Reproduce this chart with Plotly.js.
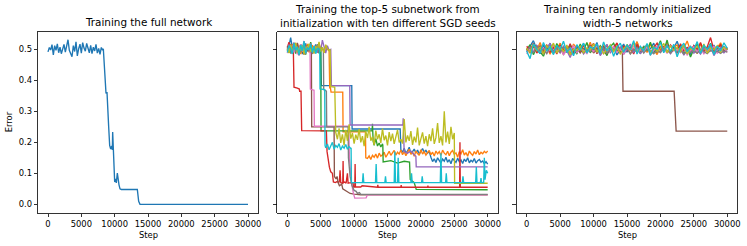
<!DOCTYPE html>
<html><head><meta charset="utf-8">
<script src="https://cdn.plot.ly/plotly-3.0.1.min.js"></script>
<style>html,body{margin:0;padding:0;background:#fff}#chart{width:747px;height:246px}</style>
</head><body><div id="chart"></div>
<script>
// ---------- tick labels ----------
const X_TICKS = [0, 5000, 10000, 15000, 20000, 25000, 30000];
const X_TICK_TEXT = ['0', '5000', '10000', '15000', '20000', '25000', '30000'];
const Y_TICKS = [0, 0.1, 0.2, 0.3, 0.4, 0.5];
const Y_TICK_TEXT = ['0.0', '0.1', '0.2', '0.3', '0.4', '0.5'];
const Y_TICKS_SHARED = [0, 0.5];
const PANEL_TITLES = ['Training the full network',
  'Training the top-5 subnetwork from<br>initialization with ten different SGD seeds',
  'Training ten randomly initialized<br>width-5 networks'];
const X_LABEL = 'Step';
const Y_LABEL = 'Error';

// ---------- step grids (recorded sampling steps) ----------
const STEP_GRID = [0,250,500,750,1000,1250,1500,1750,2000,2250,2500,2750,3000,3250,3500,3750,4000,4250,4500,4750,
5000,5250,5500,5750,6000,6250,6500,6750,7000,7250,7500,7750,8000,8250,8500,8750,9000,9250,9500,9750,
10000,10250,10500,10750,11000,11250,11500,11750,12000,12250,12500,12750,13000,13250,13500,13750,14000,14250,14500,14750,
15000,15250,15500,15750,16000,16250,16500,16750,17000,17250,17500,17750,18000,18250,18500,18750,19000,19250,19500,19750,
20000,20250,20500,20750,21000,21250,21500,21750,22000,22250,22500,22750,23000,23250,23500,23750,24000,24250,24500,24750,
25000,25250,25500,25750,26000,26250,26500,26750,27000,27250,27500,27750,28000,28250,28500,28750,29000,29250,29500,29750,30000];
const STEP_GRID_500 = [0,500,1000,1500,2000,2500,3000,3500,4000,4500,5000,5500,6000,6500,7000,7500,8000,8500,9000,9500,
10000,10500,11000,11500,12000,12500,13000,13500,14000,14500,15000,15500,16000,16500,17000,17500,18000,18500,19000,19500,
20000,20500,21000,21500,22000,22500,23000,23500,24000,24500,25000,25500,26000,26500,27000,27500,28000,28500,29000,29500,30000];
function between(a, b, grid) { return (grid || STEP_GRID).filter(s => s >= a && s <= b); }

// ---------- panel 1: full network ----------
const FULL_STEP = [0,200,400,600,800,1000,1200,1400,1600,1800,2000,2200,2400,2600,2800,3000,3200,3400,3600,3800,
4000,4200,4400,4600,4800,5000,5200,5400,5600,5800,6000,6200,6400,6600,6800,7000,7200,7400,7600,7800,8000,8200,
8300,8450,8600,8700,8850,8950,9100,9250,9400,9550,9650,9700,9800,9900,10000,10150,10250,10400,10500,10650,10800,11000,13400,13500,13600,13800,30000];
const FULL_ERR = [0.492,0.506,0.498,0.515,0.482,0.512,0.497,0.518,0.489,0.507,0.486,0.503,0.516,0.491,0.508,0.531,0.497,0.484,0.476,0.512,
0.493,0.524,0.479,0.502,0.517,0.488,0.522,0.504,0.494,0.519,0.501,0.489,0.513,0.486,0.507,0.495,0.516,0.488,0.503,0.484,0.506,0.497,
0.502,0.44,0.37,0.358,0.362,0.33,0.25,0.19,0.178,0.188,0.176,0.233,0.16,0.095,0.072,0.082,0.069,0.101,0.074,0.063,0.05,0.048,0.048,0.035,0.01,0.0,0.0];

// ---------- panel 2: top-5 subnetwork, ten SGD seeds ----------
const SUB0_STEP = [...between(0,5000),5100,9650,9700,16900,16950,...between(17000,30000)];
const SUB0_ERR = [0.50,0.512,0.538,0.505,0.521,0.49,0.508,0.497,0.515,0.485,0.503,0.519,0.494,0.51,0.488,0.505,0.498,0.516,0.49,0.507,0.5,
0.383,0.383,0.243,0.243,0.178,
0.176,0.168,0.181,0.165,0.172,0.184,0.163,0.17,0.178,0.166,0.175,0.162,0.171,0.18,0.168,0.174,0.165,0.17,
0.152,0.138,0.147,0.135,0.15,0.141,0.133,0.146,0.139,0.152,0.136,0.144,0.131,0.148,0.14,0.135,0.149,0.137,0.143,0.132,
0.146,0.138,0.15,0.134,0.142,0.137,0.148,0.133,0.141,0.145,0.136,0.14,0.131,0.138,0.13];

const SUB1_STEP = [...between(0,6250),6350,6450,6550,8300,8350,11700,11750,...between(12000,30000)];
const SUB1_ERR = [0.495,0.51,0.488,0.517,0.503,0.492,0.52,0.499,0.485,0.511,0.506,0.493,0.518,0.49,0.502,0.514,0.487,0.508,0.497,0.521,0.494,0.505,0.489,0.512,0.5,0.496,
0.376,0.376,0.362,0.362,0.234,0.234,0.15,
0.148,0.156,0.145,0.158,0.152,0.162,0.149,0.165,0.155,0.16,
0.168,0.152,0.163,0.171,0.158,0.166,0.174,0.159,0.168,0.162,
0.175,0.16,0.17,0.157,0.166,0.178,0.161,0.169,0.155,0.172,
0.164,0.158,0.176,0.162,0.17,0.159,0.167,0.174,0.16,0.168,
0.156,0.172,0.163,0.17,0.158,0.175,0.165,0.16,0.171,0.157,
0.168,0.174,0.161,0.166,0.152,0.17,0.163,0.176,0.159,0.167,
0.155,0.172,0.164,0.158,0.17,0.162,0.175,0.16,0.168,0.163,
0.171,0.166,0.172];

const SUB2_STEP = [...between(0,5000),5050,12700,12750,12850,...between(13000,14250),14300,14350,15500,16500,17500,18300,18400,19000,19300,30000];
const SUB2_ERR = [0.503,0.489,0.514,0.497,0.52,0.486,0.509,0.495,0.516,0.491,0.504,0.483,0.511,0.498,0.523,0.49,0.507,0.494,0.512,0.487,0.5,
0.237,0.237,0.26,0.205,
0.19,0.212,0.188,0.198,0.185,0.195,
0.19,0.137,0.141,0.133,0.139,0.136,0.08,0.07,0.048,0.047];

const SUB3_STEP = [...between(0,750),900,1000,1500,1800,1850,2050,2150,5850,5950,6150,6300,
6500,6750,6900,7200,7500,7700,7800,7900,8000,8300,
8350,8400,8600,8800,9000,9100,9500,9850,9900,10100,
10150,10200,11000,11200,13500,13550,13600,17000,17050,17100,
21000,21050,21100,25800,25850,25900,30000];
const SUB3_ERR = [0.505,0.523,0.49,0.512,0.5,0.378,0.375,0.372,0.365,0.365,0.238,0.237,0.17,0.14,0.12,
0.105,0.1,0.072,0.07,0.074,0.07,0.075,0.11,0.07,0.068,
0.14,0.07,0.072,0.068,0.1,0.068,0.07,0.068,0.056,0.056,
0.13,0.056,0.056,0.06,0.055,0.063,0.055,0.055,0.062,0.055,
0.055,0.06,0.055,0.055,0.2,0.056,0.055];

const SUB4_STEP = [...between(0,6500),6600,9350,9400,17300,17350,17450,17500,18000,18500,19000,19250,19300,30000];
const SUB4_ERR = [0.498,0.516,0.487,0.509,0.522,0.493,0.505,0.48,0.514,0.499,0.527,0.49,0.508,0.496,0.519,0.485,0.511,0.502,0.489,0.517,0.494,0.53,0.503,0.488,0.512,0.497,0.5,
0.383,0.383,0.256,0.256,0.278,0.2,0.17,0.165,0.172,0.16,0.155,0.121,0.121];

const SUB5_STEP = [...between(0,3500),3600,3650,7000,7050,7300,7450,7600,7800,8000,8150,8300,8600,9000,9400,10000,11000,30000];
const SUB5_ERR = [0.51,0.492,0.518,0.486,0.503,0.495,0.521,0.488,0.507,0.498,0.483,0.512,0.494,0.505,0.5,
0.5,0.25,0.25,0.09,0.082,0.09,0.07,0.06,0.062,0.065,0.05,0.046,0.039,0.035,0.033,0.031,0.031];

const SUB6_STEP = [...between(0,3250),3400,3450,4000,4050,9200,9300,9600,9900,10100,11800,12000,30000];
const SUB6_ERR = [0.488,0.506,0.495,0.513,0.49,0.509,0.484,0.502,0.517,0.493,0.505,0.487,0.51,0.498,
0.5,0.372,0.368,0.252,0.252,0.15,0.07,0.035,0.02,0.021,0.031,0.031];

const SUB7_STEP = [...between(0,5250),5400,5450,5850,5900,9100,9150,9400,9700,10000,10300,10500,10800,11000,30000];
const SUB7_ERR = [0.496,0.513,0.487,0.505,0.52,0.491,0.51,0.482,0.503,0.497,0.515,0.488,0.508,0.494,0.512,0.486,0.504,0.499,0.517,0.49,0.506,0.5,
0.5,0.37,0.365,0.25,0.25,0.15,0.09,0.06,0.045,0.042,0.035,0.038,0.032,0.032];

const SUB8_STEP = [...between(0,6250),6400,6500,7100,7200,...between(7250,24750),25000,25050,30000];
const SUB8_ERR = [0.502,0.488,0.515,0.494,0.508,0.521,0.49,0.505,0.497,0.513,0.484,0.509,0.5,0.518,0.492,0.506,0.487,0.511,0.498,0.524,0.493,0.507,0.489,0.515,0.502,0.496,
0.5,0.38,0.378,0.25,
0.232,0.21,0.245,0.198,0.226,0.19,0.24,0.205,0.258,0.212,0.23,
0.196,0.225,0.208,0.243,0.2,0.22,0.188,0.235,0.214,0.25,0.205,
0.218,0.192,0.238,0.21,0.226,0.198,0.244,0.207,0.222,0.19,0.233,
0.204,0.228,0.195,0.216,0.24,0.2,0.21,0.196,0.275,0.2,0.222,
0.205,0.236,0.192,0.218,0.2,0.248,0.19,0.212,0.232,0.196,0.22,
0.188,0.226,0.204,0.245,0.195,0.215,0.262,0.198,0.22,0.19,0.3,
0.2,0.235,0.195,0.25,0.21,
0.23,0.068,0.068];

const SUB9_STEP = [...between(0,4750),4850,4900,5600,5650,...between(5750,9500),9550,9600,
11250,11350,11450,13200,13300,13400,14600,14700,14800,16000,16100,16200,16500,16600,16700,
18500,18600,18700,20100,20200,20300,22900,23000,23100,23700,23800,23900,26200,26300,26400,
28200,28300,28400,28900,29000,29100,29400,29500,29600,29800,30000];
const SUB9_ERR = [0.49,0.512,0.503,0.485,0.519,0.497,0.508,0.482,0.514,0.495,0.526,0.488,0.505,0.499,0.517,0.49,0.51,0.486,0.503,0.5,
0.5,0.372,0.37,0.19,
0.182,0.195,0.176,0.188,0.2,0.178,0.19,0.184,0.196,0.175,0.188,0.181,0.193,0.178,0.186,0.18,
0.18,0.07,
0.07,0.1,0.07,0.07,0.13,0.07,0.07,0.09,0.07,0.07,0.17,0.07,0.07,0.15,0.07,
0.07,0.1,0.07,0.07,0.09,0.07,0.07,0.165,0.07,0.07,0.1,0.07,0.07,0.09,0.07,
0.07,0.12,0.07,0.07,0.085,0.07,0.07,0.15,0.08,0.11,0.1];

// ---------- panel 3: ten random width-5 networks ----------
const RAND0_ERR = [0.492,0.51,0.528,0.5,0.486,0.513,0.497,0.52,0.489,0.505,0.515,0.493,0.508,0.5,0.484,0.512,0.496,0.519,0.49,0.507,
0.498,0.522,0.487,0.503,0.514,0.495,0.509,0.482,0.5,0.517,0.491,0.506,0.498,0.524,0.488,0.511,0.495,0.502,0.52,0.486,
0.507,0.499,0.515,0.49,0.504,0.526,0.493,0.51,0.497,0.483,0.512,0.5,0.518,0.489,0.506,0.495,0.514,0.491,0.503,0.509,0.497];
const RAND1_ERR = [0.505,0.488,0.516,0.497,0.522,0.491,0.508,0.484,0.513,0.499,0.52,0.494,0.506,0.487,0.517,0.502,0.49,0.511,0.496,0.523,
0.489,0.507,0.5,0.515,0.485,0.509,0.498,0.519,0.492,0.504,0.513,0.487,0.501,0.525,0.494,0.508,0.49,0.516,0.499,0.483,
0.511,0.497,0.52,0.488,0.506,0.514,0.492,0.503,0.527,0.495,0.51,0.486,0.518,0.5,0.493,0.512,0.489,0.507,0.521,0.496,0.504];
const RAND2_ERR = [0.498,0.515,0.483,0.506,0.492,0.478,0.51,0.5,0.487,0.519,0.495,0.508,0.49,0.513,0.501,0.485,0.517,0.496,0.522,0.489,
0.504,0.491,0.512,0.498,0.48,0.509,0.52,0.494,0.505,0.488,0.515,0.5,0.493,0.511,0.486,0.507,0.497,0.523,0.49,0.503,
0.528,0.495,0.53,0.488,0.509,0.499,0.514,0.485,0.506,0.475,0.501,0.517,0.492,0.508,0.496,0.52,0.487,0.505,0.513,0.494,0.502];
const RAND3_ERR = [0.51,0.495,0.52,0.488,0.505,0.498,0.515,0.49,0.507,0.485,0.512,0.5,0.493,0.518,0.489,0.506,0.497,0.514,0.491,0.503,
0.519,0.486,0.508,0.499,0.513,0.492,0.504,0.521,0.488,0.51,0.496,0.507,0.485,0.516,0.5,0.494,0.511,0.489,0.505,0.52,
0.497,0.509,0.49,0.514,0.502,0.487,0.518,0.495,0.506,0.493,0.512,0.499,0.522,0.491,0.508,0.538,0.497,0.503,0.515,0.49,0.506];
const RAND4_ERR = [0.495,0.507,0.49,0.513,0.498,0.486,0.504,0.519,0.492,0.501,0.488,0.51,0.496,0.474,0.503,0.491,0.508,0.485,0.499,0.512,
0.493,0.506,0.48,0.497,0.515,0.489,0.502,0.494,0.509,0.484,0.5,0.517,0.491,0.505,0.487,0.498,0.511,0.483,0.496,0.508,
0.49,0.503,0.514,0.486,0.499,0.492,0.507,0.481,0.5,0.51,0.488,0.497,0.485,0.504,0.493,0.511,0.48,0.498,0.506,0.489,0.501];
const RAND5_STEP = [...between(0,14000,STEP_GRID_500),14300,14400,22050,22350,30000];
const RAND5_ERR = [0.5,0.49,0.508,0.495,0.512,0.487,0.503,0.497,0.515,0.491,0.506,0.484,0.5,0.511,0.493,0.507,0.489,0.502,0.496,0.513,
0.488,0.505,0.492,0.51,0.486,0.499,0.508,0.494,0.5,
0.5,0.365,0.365,0.236,0.236];
const RAND6_ERR = [0.485,0.502,0.496,0.51,0.491,0.505,0.488,0.499,0.514,0.493,0.507,0.482,0.5,0.495,0.511,0.489,0.504,0.497,0.486,0.508,
0.492,0.515,0.498,0.487,0.503,0.494,0.509,0.49,0.501,0.485,0.506,0.496,0.512,0.488,0.5,0.493,0.507,0.484,0.498,0.51,
0.491,0.504,0.487,0.513,0.495,0.5,0.489,0.506,0.482,0.497,0.509,0.492,0.503,0.486,0.5,0.494,0.511,0.488,0.496,0.505,0.49];
const RAND7_ERR = [0.497,0.505,0.489,0.512,0.494,0.501,0.486,0.508,0.496,0.503,0.491,0.507,0.499,0.484,0.5,0.495,0.509,0.488,0.502,0.493,
0.506,0.49,0.498,0.504,0.487,0.5,0.494,0.51,0.489,0.497,0.503,0.485,0.499,0.492,0.506,0.488,0.501,0.495,0.486,0.498,
0.49,0.503,0.496,0.488,0.5,0.492,0.497,0.485,0.494,0.49,0.496,0.488,0.5,0.493,0.486,0.497,0.49,0.494,0.487,0.495,0.491];
const RAND8_ERR = [0.503,0.49,0.517,0.496,0.508,0.485,0.512,0.499,0.52,0.488,0.506,0.494,0.514,0.482,0.501,0.497,0.51,0.489,0.505,0.498,
0.518,0.491,0.507,0.486,0.5,0.515,0.493,0.509,0.484,0.503,0.512,0.496,0.521,0.49,0.505,0.499,0.516,0.487,0.508,0.494,
0.502,0.519,0.489,0.511,0.497,0.506,0.492,0.514,0.485,0.503,0.498,0.51,0.493,0.517,0.488,0.505,0.5,0.512,0.491,0.507,0.499];
const RAND9_ERR = [0.494,0.47,0.518,0.5,0.487,0.522,0.496,0.509,0.483,0.513,0.5,0.526,0.49,0.505,0.479,0.515,0.497,0.52,0.488,0.508,
0.502,0.517,0.486,0.524,0.495,0.511,0.478,0.506,0.52,0.491,0.514,0.498,0.528,0.485,0.51,0.496,0.519,0.481,0.507,0.5,
0.523,0.489,0.512,0.494,0.516,0.476,0.505,0.52,0.492,0.509,0.498,0.525,0.487,0.513,0.5,0.518,0.483,0.51,0.495,0.521,0.503];

// ---------- drawing ----------
const COLORS = ['#1f77b4','#ff7f0e','#2ca02c','#d62728','#9467bd','#8c564b','#e377c2','#7f7f7f','#bcbd22','#17becf'];
const W = 747, H = 246;
const FONT = 'DejaVu Sans, Liberation Sans, sans-serif';
function line(x, y, color, n) {
  return {x: x, y: y, type: 'scatter', mode: 'lines', xaxis: 'x' + (n > 1 ? n : ''), yaxis: 'y' + (n > 1 ? n : ''),
    line: {color: color, width: 1.35}, hoverinfo: 'skip', showlegend: false};
}
const traces = [line(FULL_STEP, FULL_ERR, COLORS[0], 1)];
const SUB = [[SUB0_STEP,SUB0_ERR],[SUB1_STEP,SUB1_ERR],[SUB2_STEP,SUB2_ERR],[SUB3_STEP,SUB3_ERR],[SUB4_STEP,SUB4_ERR],
  [SUB5_STEP,SUB5_ERR],[SUB6_STEP,SUB6_ERR],[SUB7_STEP,SUB7_ERR],[SUB8_STEP,SUB8_ERR],[SUB9_STEP,SUB9_ERR]];
SUB.forEach((s, i) => traces.push(line(s[0], s[1], COLORS[i], 2)));
const RAND = [[STEP_GRID_500,RAND0_ERR],[STEP_GRID_500,RAND1_ERR],[STEP_GRID_500,RAND2_ERR],[STEP_GRID_500,RAND3_ERR],[STEP_GRID_500,RAND4_ERR],
  [RAND5_STEP,RAND5_ERR],[STEP_GRID_500,RAND6_ERR],[STEP_GRID_500,RAND7_ERR],[STEP_GRID_500,RAND8_ERR],[STEP_GRID_500,RAND9_ERR]];
RAND.forEach((s, i) => traces.push(line(s[0], s[1], COLORS[i], 3)));

const axisBase = {showline: true, mirror: true, linecolor: '#000', linewidth: 0.8, showgrid: false, zeroline: false,
  ticks: 'outside', ticklen: 3.5, tickwidth: 0.8, tickcolor: '#000', automargin: false,
  tickfont: {family: FONT, size: 8.4, color: '#000'}};
const xBase = Object.assign({}, axisBase, {range: [-1500, 31500], tickmode: 'array', tickvals: X_TICKS, ticktext: X_TICK_TEXT});
const yDom = [1 - 213 / H, 1 - 32 / H];
const yBase = Object.assign({}, axisBase, {range: [-0.028, 0.556], domain: yDom, tickmode: 'array'});
const boxes = [[38, 258], [277.3, 497.7], [516.7, 737.3]];

const annotations = [];
boxes.forEach((b, i) => {
  const cx = (b[0] + b[1]) / 2 / W;
  annotations.push({text: PANEL_TITLES[i], x: cx, y: 1 - (i === 0 ? 22.3 : 16.4) / H, xref: 'paper', yref: 'paper',
    xanchor: 'center', yanchor: 'middle', showarrow: false, font: {family: FONT, size: 10.4, color: '#000'}});
  annotations.push({text: X_LABEL, x: cx, y: 1 - 235 / H, xref: 'paper', yref: 'paper',
    xanchor: 'center', yanchor: 'middle', showarrow: false, font: {family: FONT, size: 8.4, color: '#000'}});
});
annotations.push({text: Y_LABEL, x: 9.3 / W, y: 1 - 122 / H, xref: 'paper', yref: 'paper', textangle: -90,
  xanchor: 'center', yanchor: 'middle', showarrow: false, font: {family: FONT, size: 8.4, color: '#000'}});

const layout = {
  width: W, height: H, margin: {l: 0, r: 0, t: 0, b: 0}, paper_bgcolor: '#fff', plot_bgcolor: '#fff', showlegend: false,
  xaxis: Object.assign({}, xBase, {domain: [boxes[0][0] / W, boxes[0][1] / W], anchor: 'y'}),
  xaxis2: Object.assign({}, xBase, {domain: [boxes[1][0] / W, boxes[1][1] / W], anchor: 'y2'}),
  xaxis3: Object.assign({}, xBase, {domain: [boxes[2][0] / W, boxes[2][1] / W], anchor: 'y3'}),
  yaxis: Object.assign({}, yBase, {anchor: 'x', tickvals: Y_TICKS, ticktext: Y_TICK_TEXT}),
  yaxis2: Object.assign({}, yBase, {anchor: 'x2', tickvals: Y_TICKS_SHARED, showticklabels: false}),
  yaxis3: Object.assign({}, yBase, {anchor: 'x3', tickvals: Y_TICKS_SHARED, showticklabels: false}),
  annotations: annotations
};
Plotly.newPlot('chart', traces, layout, {staticPlot: true, displayModeBar: false});
</script></body></html>
